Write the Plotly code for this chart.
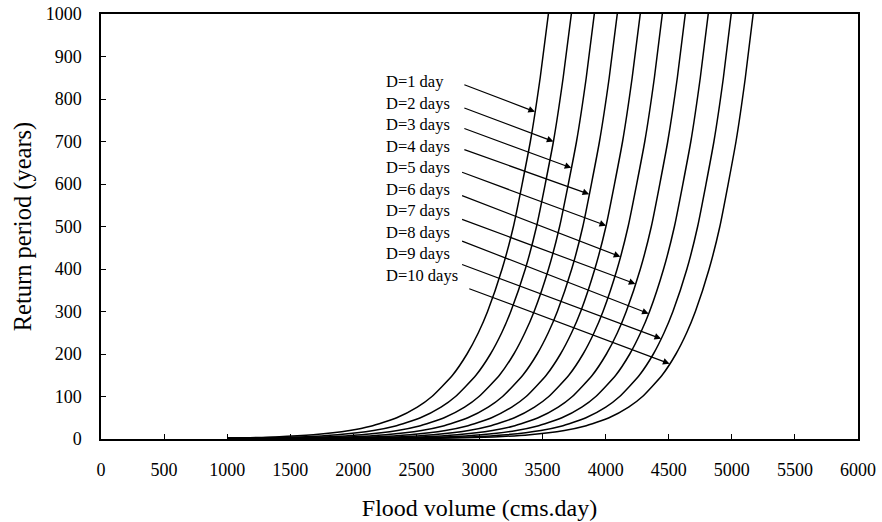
import numpy as np
import plotly.graph_objects as go

# ---------------- data ----------------
durations = ["D=1 day", "D=2 days", "D=3 days", "D=4 days", "D=5 days",
             "D=6 days", "D=7 days", "D=8 days", "D=9 days", "D=10 days"]

# Return periods (years) of the points of each curve
T_d1 = [2.3, 5, 10, 20, 30, 50, 75, 100, 150, 200, 250, 300, 400, 500, 700, 850, 1000]
T_d2 = [1.6, 2, 5, 10, 20, 30, 50, 75, 100, 150, 200, 250, 300, 400, 500, 700, 850, 1000]
T_d3 = [1.3, 2, 5, 10, 20, 30, 50, 75, 100, 150, 200, 250, 300, 400, 500, 700, 850, 1000]
T_std = [1.0, 2, 5, 10, 20, 30, 50, 75, 100, 150, 200, 250, 300, 400, 500, 700, 850, 1000]

# Flood volume (cms.day) for each curve
V_d1 = [1000, 1383, 1683, 1971, 2137, 2344, 2507, 2623, 2786, 2901, 2991, 3064, 3179, 3269, 3403, 3481, 3546]
V_d2 = [1000, 1125, 1576, 1875, 2161, 2326, 2532, 2695, 2810, 2972, 3087, 3176, 3248, 3363, 3452, 3586, 3663, 3728]
V_d3 = [1000, 1320, 1769, 2066, 2351, 2515, 2720, 2882, 2996, 3158, 3272, 3360, 3433, 3547, 3635, 3769, 3846, 3910]
V_d4 = [1000, 1515, 1961, 2257, 2541, 2704, 2908, 3069, 3183, 3343, 3457, 3545, 3617, 3731, 3819, 3951, 4028, 4092]
V_d5 = [1000, 1710, 2154, 2448, 2731, 2893, 3096, 3256, 3370, 3529, 3642, 3730, 3802, 3914, 4002, 4134, 4210, 4274]
V_d6 = [1000, 1898, 2340, 2633, 2914, 3075, 3277, 3436, 3549, 3708, 3821, 3908, 3979, 4091, 4178, 4310, 4386, 4449]
V_d7 = [1000, 2093, 2533, 2824, 3103, 3264, 3465, 3624, 3736, 3894, 4006, 4093, 4163, 4275, 4362, 4492, 4568, 4631]
V_d8 = [1000, 2288, 2726, 3015, 3293, 3453, 3653, 3811, 3922, 4080, 4191, 4277, 4348, 4459, 4545, 4675, 4750, 4813]
V_d9 = [1000, 2490, 2924, 3211, 3487, 3646, 3844, 4001, 4111, 4267, 4378, 4463, 4533, 4644, 4729, 4858, 4933, 4995]
V_d10 = [1000, 2683, 3114, 3399, 3673, 3830, 4027, 4182, 4292, 4447, 4557, 4642, 4711, 4820, 4905, 5033, 5107, 5169]

curves_T = [T_d1, T_d2, T_d3, T_std, T_std, T_std, T_std, T_std, T_std, T_std]
curves_V = [V_d1, V_d2, V_d3, V_d4, V_d5, V_d6, V_d7, V_d8, V_d9, V_d10]

# Return period where each label's arrow meets its curve
arrow_T = [770, 700, 638, 576, 502, 429, 365, 295, 236, 177]

x_ticks = [0, 500, 1000, 1500, 2000, 2500, 3000, 3500, 4000, 4500, 5000, 5500, 6000]
y_ticks = [0, 100, 200, 300, 400, 500, 600, 700, 800, 900, 1000]

# ---------------- layout constants ----------------
label_x = 2240
label_y = [841, 790, 739, 689, 638, 588, 537, 486, 436, 385]
tail_x = [2868, 2868, 2868, 2868, 2850, 2850, 2850, 2850, 2850, 2907]
tail_y = [835, 780, 732, 682, 629, 574, 518, 467, 412, 355]

FONT = "Liberation Serif, Times New Roman, serif"

fig = go.Figure()
for name, v, t in zip(durations, curves_V, curves_T):
    fig.add_trace(go.Scatter(
        x=v, y=t, mode="lines", name=name,
        line=dict(color="black", width=1.5, shape="spline", smoothing=0.5),
        showlegend=False, hoverinfo="x+y+name",
    ))

for i, name in enumerate(durations):
    tip_T = arrow_T[i]
    tip_V = float(np.interp(tip_T, curves_T[i], curves_V[i]))
    fig.add_annotation(
        x=tip_V, y=tip_T, xref="x", yref="y",
        ax=tail_x[i], ay=tail_y[i], axref="x", ayref="y",
        text="", showarrow=True, arrowhead=2, arrowsize=1.1,
        arrowwidth=1.2, arrowcolor="black", standoff=0,
    )
    fig.add_annotation(
        x=label_x, y=label_y[i], xref="x", yref="y",
        text=name, showarrow=False, xanchor="left", yanchor="middle",
        font=dict(family=FONT, size=16.5, color="black"),
    )

axis_common = dict(
    showgrid=False, zeroline=False, showline=True, mirror=True,
    linecolor="black", linewidth=1.5, ticks="inside", ticklen=5,
    tickcolor="black", tickwidth=1, automargin=False,
    tickfont=dict(family=FONT, size=18, color="black"),
)

fig.update_xaxes(
    range=[0, 6000], tickvals=x_ticks, ticktext=[str(v) for v in x_ticks],
    title=dict(text="Flood volume (cms.day)",
               font=dict(family=FONT, size=24, color="black"), standoff=20),
    ticklabelstandoff=14,
    **axis_common,
)
fig.update_yaxes(
    range=[0, 1000], tickvals=y_ticks, ticktext=[str(v) for v in y_ticks],
    title=dict(text="Return period (years)",
               font=dict(family=FONT, size=24.5, color="black"), standoff=7),
    ticklabelstandoff=14,
    **axis_common,
)

fig.update_layout(
    width=882, height=522,
    margin=dict(l=101, r=24, t=14, b=83),
    paper_bgcolor="white", plot_bgcolor="white",
    font=dict(family=FONT, color="black"),
)

fig.write_html(
    "out.html",
    config={"displayModeBar": False},
    post_script="document.body.style.margin='0';document.body.style.overflow='hidden';",
)
